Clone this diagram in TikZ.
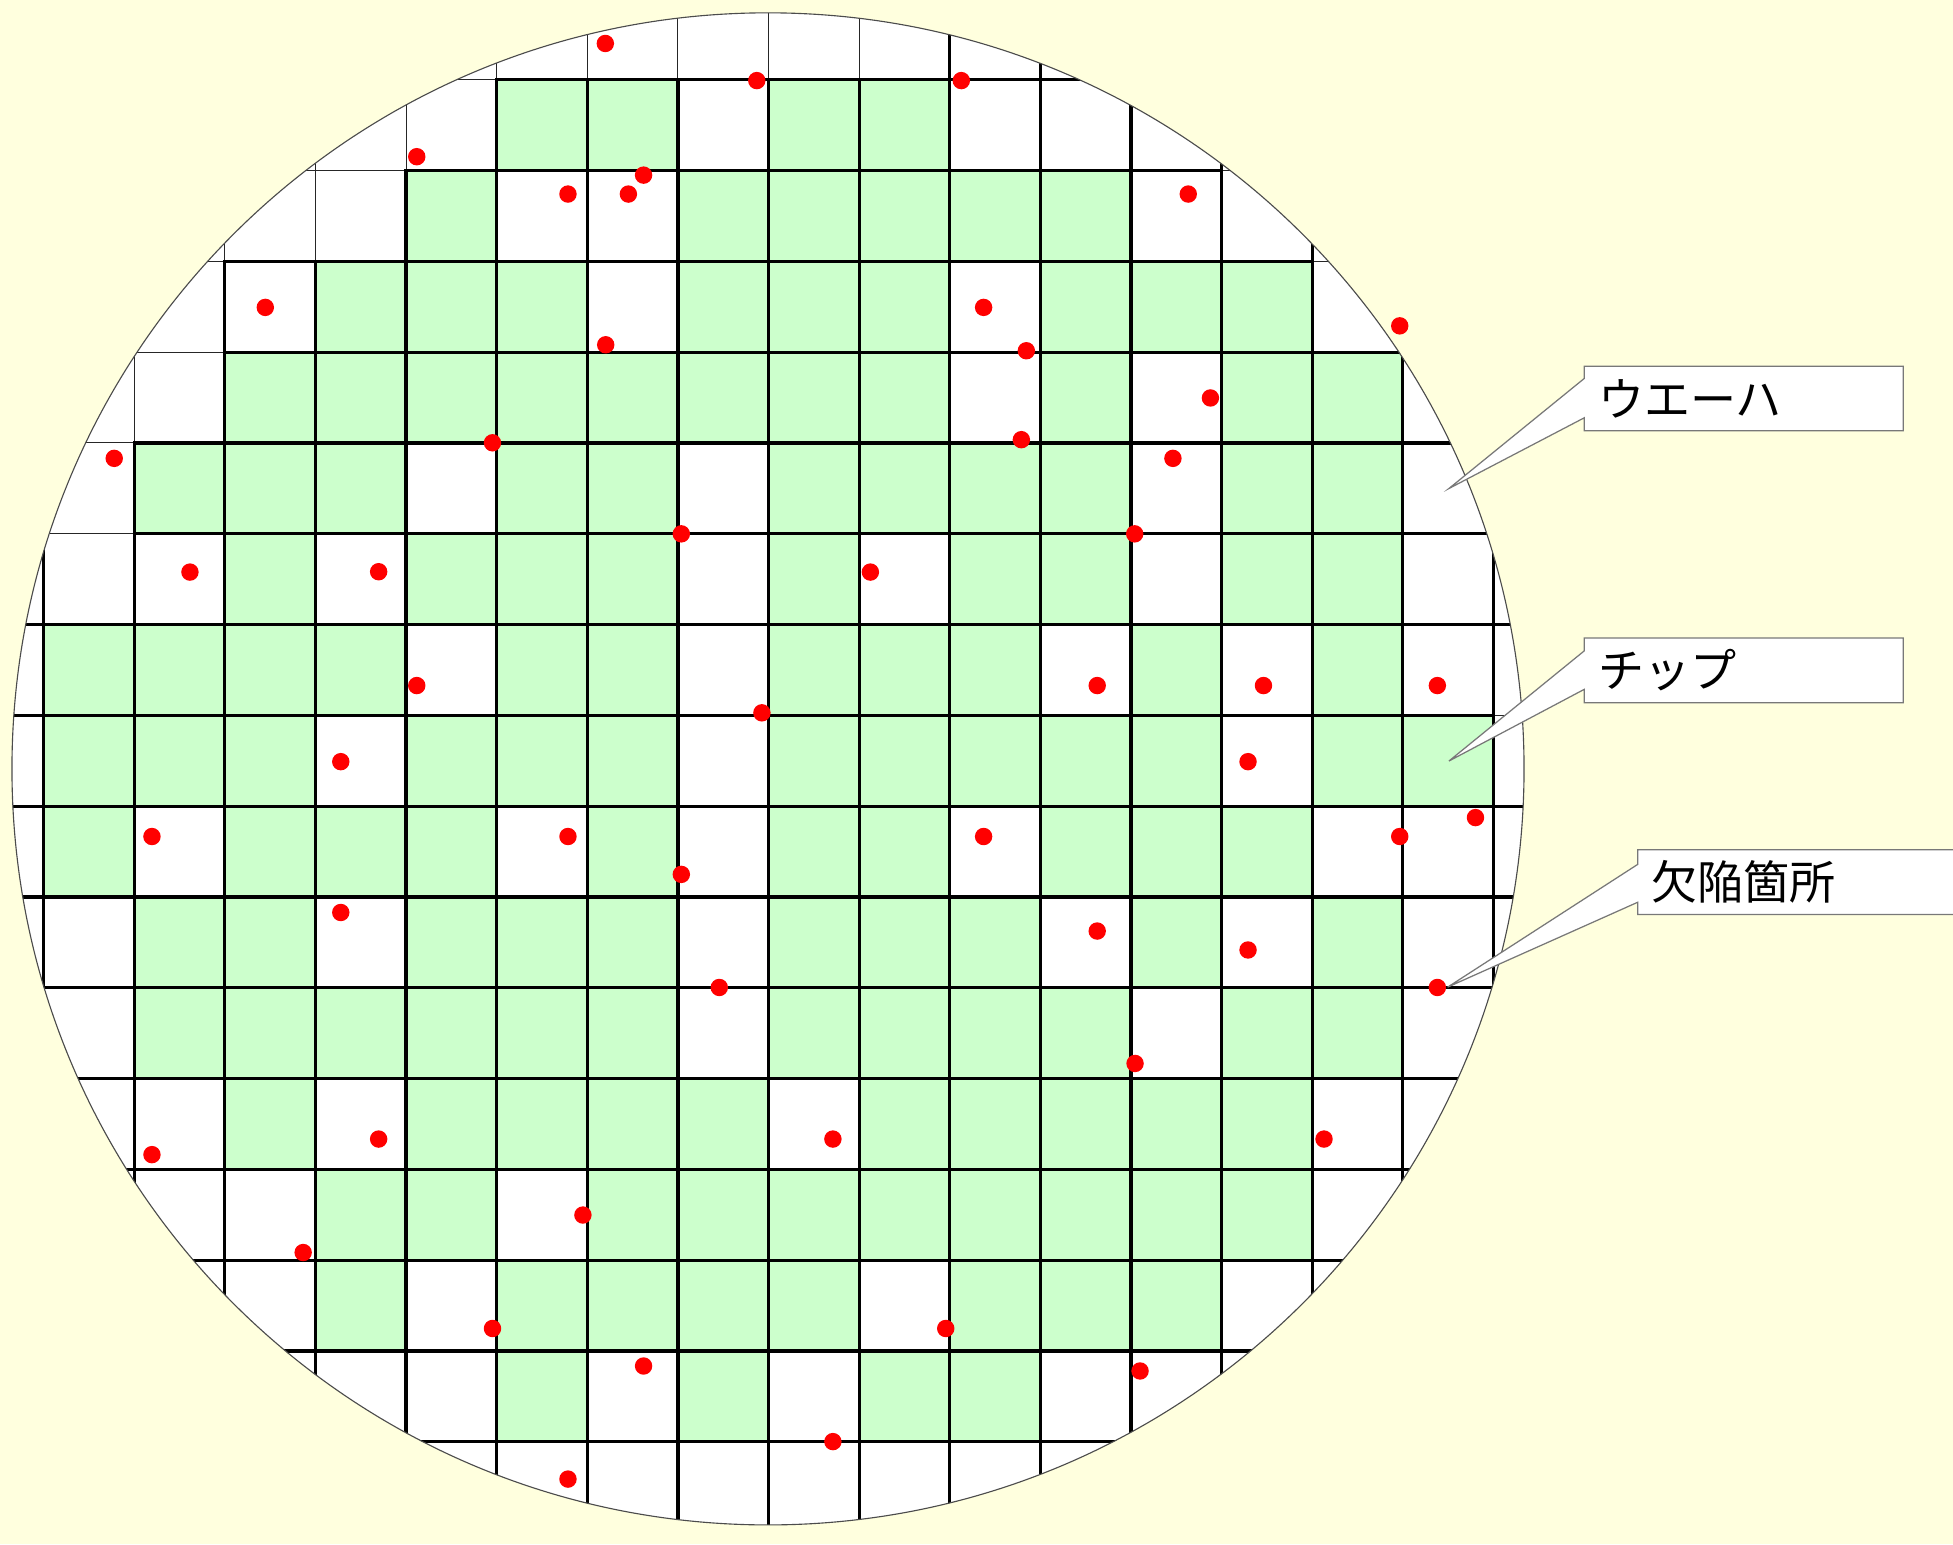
\documentclass[tikz,border=0pt]{standalone}
\usepackage{fontspec}
\newfontfamily\jpfont{Noto Sans CJK JP}
\usetikzlibrary{calc}
\pgfdeclarelayer{waferlayer}
\pgfdeclarelayer{calloutlayer}
\pgfsetlayers{waferlayer,calloutlayer,main}
\definecolor{bgyellow}{RGB}{255,255,222}
\definecolor{chipgreen}{RGB}{204,255,204}
\definecolor{defectred}{RGB}{255,0,0}
\definecolor{boxgray}{RGB}{120,120,120}
\tikzset{
  chipfill/.style={fill=chipgreen},
  thingrid/.style={draw=black!85, line width=0.8pt},
  thickgrid/.style={draw=black, line width=2.6pt, line cap=rect},
  defect/.style={fill=defectred},
  waferedge/.style={draw=black!70, line width=0.9pt},
  callout/.style={draw=boxgray, line width=1pt, fill=white, line join=miter},
  calltext/.style={anchor=north west, inner xsep=11pt, inner ysep=0pt,
    minimum height=51.5pt, text width=233.7pt, align=left,
    font=\jpfont\fontsize{37}{40}\selectfont}
}
\begin{document}
\begin{tikzpicture}[x=1pt,y=-1pt]
\useasboundingbox (0,0) rectangle (1568,1240);
\begin{pgfonlayer}{waferlayer}
  \fill[bgyellow] (0,0) rectangle (1568,1240);
  \coordinate (wc) at (616.6,617.3);
  \fill[white] (wc) circle (607pt);
  \begin{scope}
    \clip (wc) circle (607pt);
    % chips
    \foreach \r/\cols in {0/{5,6,8,9},
        1/{4,7,8,9,10,11},
        2/{3,4,5,7,8,9,11,12,13},
        3/{2,3,4,5,6,7,8,9,11,13,14},
        4/{1,2,3,5,6,8,9,10,11,13,14},
        5/{2,4,5,6,8,10,11,13,14},
        6/{0,1,2,3,5,6,8,9,10,12,14},
        7/{0,1,2,4,5,6,8,9,10,11,12,14,15},
        8/{0,2,3,4,6,8,9,11,12,13},
        9/{1,2,4,5,6,8,9,10,12,14},
        10/{1,2,3,4,5,6,8,9,10,11,13,14},
        11/{2,4,5,6,7,9,10,11,12,13},
        12/{3,4,6,7,8,9,10,11,12,13},
        13/{3,5,6,7,8,10,11,12},
        14/{5,7,9,10}}{
      \foreach \c in \cols {
        \fill[chipfill] ({35+72.75*\c},{64+72.9*\r}) rectangle ++(72.75,72.9);
      }
    }
    % thin grid
    \foreach \k in {0,...,16}
      \draw[thingrid] ({35+72.75*\k},-20) -- ({35+72.75*\k},1260);
    \foreach \j in {0,...,15}
      \draw[thingrid] (-20,{64+72.9*\j}) -- (1260,{64+72.9*\j});
    % thick grid, vertical lines: column index / first row
    \foreach \k/\ra in {0/5,1/4,2/2,3/2,4/1,5/0,6/0,7/0,8/0,9/0,
        10/-1,11/-1,12/-1,13/-1,14/-1,15/-1,16/-1}
      \draw[thickgrid] ({35+72.75*\k},{64+72.9*\ra}) -- ({35+72.75*\k},1260);
    % thick grid, horizontal lines: row index / first column / last column
    \foreach \j/\ca/\cb in {0/5/17,1/4/13,2/2/14,3/2/17,4/1/17,5/1/17,
        6/-1/17,7/-1/16,8/-1/17,9/-1/17,10/-1/17,11/-1/17,12/-1/17,
        13/-1/17,14/-1/17,15/-1/17}
      \draw[thickgrid] ({35+72.75*\ca},{64+72.9*\j}) -- ({35+72.75*\cb},{64+72.9*\j});
  \end{scope}
  \draw[waferedge] (wc) circle (607pt);
  % defects
  \foreach \px/\py in {486/34.9, 607.6/64.7, 771.8/64.7, 334.6/125.8,
      516.7/140.6, 456/155.8, 504.5/155.8, 954/155.8, 213/246.8,
      789.7/246.8, 486.3/276.8, 824/281.6, 1123.8/261.6, 971.8/319.5,
      820/353, 395.4/355.5, 91.7/368, 941.7/368, 547/428.6, 911/428.6,
      152.5/459.3, 304/459, 698.8/459.3, 334.6/550.4, 880.9/550.4,
      1014.4/550.4, 1154/550.4, 611.7/572.3, 273.6/611.5, 1002/611.5,
      122/671.6, 456/671.6, 789.7/671.6, 1123.8/671.6, 1184.6/656.4,
      547/702, 273.6/732.6, 880.9/747.5, 1002/762.7, 577.5/792.8,
      1154/792.8, 911.3/853.8, 122/927, 304/914.5, 668.7/914.5,
      1063/914.5, 468/975.5, 243.4/1005.6, 395.4/1066.6, 759.3/1066.6,
      516.7/1096.7, 915.3/1100.7, 668.7/1157.4, 456/1187.5}
    \fill[defect] (\px,\py) circle (7pt);
\end{pgfonlayer}
% callouts
\coordinate (waferTip) at (1163.3,392.2);
\coordinate (chipTip) at (1163.3,611);
\coordinate (defectTip) at (1162.3,792.5);
\node[calltext] (wafer) at (1272,294) {ウエーハ};
\node[calltext] (chip) at (1272,512.3) {チップ};
\node[calltext, text width=300pt] (defect) at (1314.8,682.3) {欠陥箇所};
\begin{pgfonlayer}{calloutlayer}
  \draw[callout] (wafer.north west) -- (wafer.north east) -- (wafer.south east)
    -- (wafer.south west) -- ($(wafer.south west)+(0,-10.5)$) -- (waferTip)
    -- ($(wafer.north west)+(0,9.8)$) -- cycle;
  \draw[callout] (chip.north west) -- (chip.north east) -- (chip.south east)
    -- (chip.south west) -- ($(chip.south west)+(0,-10.8)$) -- (chipTip)
    -- ($(chip.north west)+(0,10.2)$) -- cycle;
  \draw[callout] (defect.north west) -- (defect.north east) -- (defect.south east)
    -- (defect.south west) -- ($(defect.south west)+(0,-9.8)$) -- (defectTip)
    -- ($(defect.north west)+(0,11.7)$) -- cycle;
\end{pgfonlayer}
\end{tikzpicture}
\end{document}
